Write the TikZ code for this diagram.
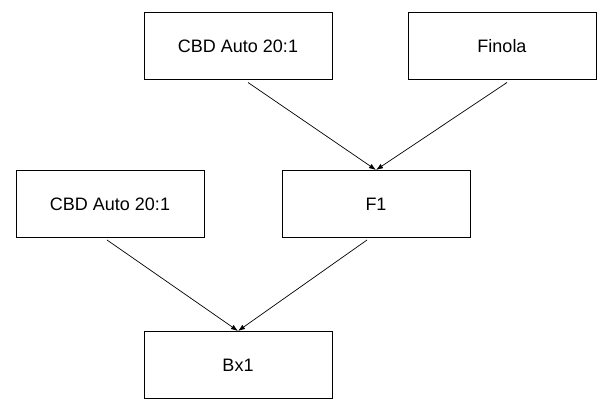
\documentclass[tikz,border=0pt]{standalone}
\usepackage{fontspec}
\setmainfont{Liberation Sans}
\usetikzlibrary{arrows.meta,calc,positioning}

\begin{document}
\begin{tikzpicture}[x=1pt,y=-1pt]
        \tikzset{plant/.style={draw,line width=1pt,minimum width=188pt,minimum height=67pt,inner sep=0pt,font=\fontsize{18}{22}\selectfont}}
        \tikzset{cross/.style={-{Latex[length=7pt,width=5pt]},line width=0.7pt}}
        \useasboundingbox (0,0) rectangle (613,411);
        %Boxes
        \node[plant] (cbdtop) at (238,46.5) {CBD Auto 20:1};
        \node[plant] (finola) at (502,46.5) {Finola};
        \node[plant] (cbdleft) at (110,204) {CBD Auto 20:1};
        \node[plant] (fone) at (376,204) {F1};
        \node[plant] (bxone) at (238,365) {Bx1};
        %Crosses
        \draw[cross] ([xshift=10pt,yshift=-2pt]cbdtop.south) -- (fone.north);
        \draw[cross] ([xshift=5pt,yshift=-2pt]finola.south) -- (fone.north);
        \draw[cross] ([xshift=-3pt,yshift=-2pt]cbdleft.south) -- (bxone.north);
        \draw[cross] ([xshift=-9pt,yshift=-2pt]fone.south) -- (bxone.north);
      \end{tikzpicture}
\end{document}
